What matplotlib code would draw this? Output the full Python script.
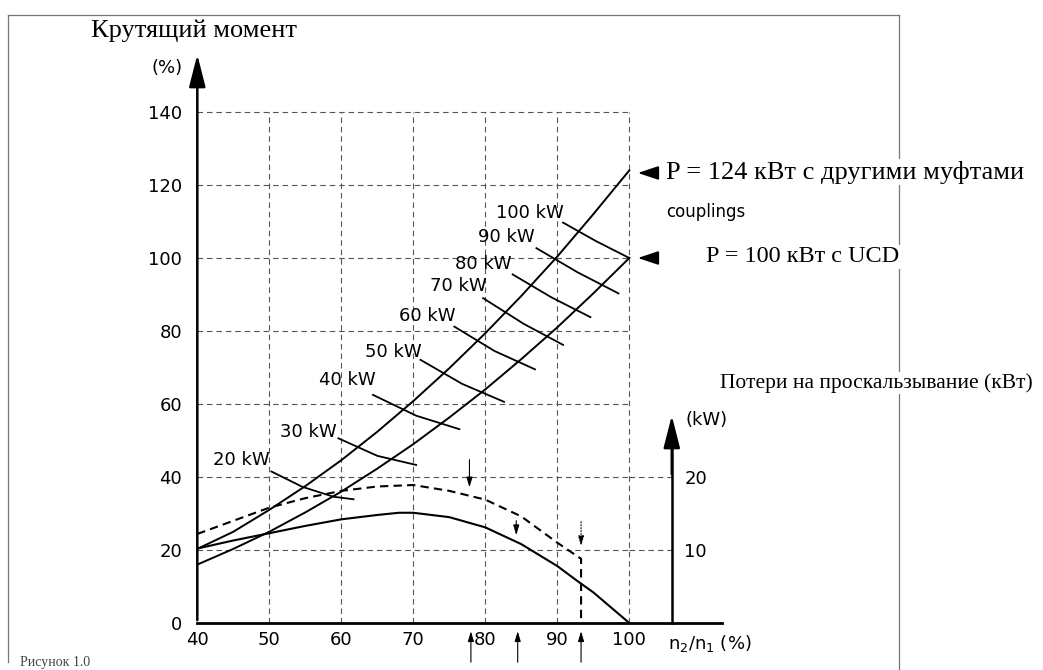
import matplotlib.pyplot as plt
from matplotlib.lines import Line2D

W, H = 1043, 670

# speed ratio n2/n1 (%)
speed = [40, 45, 50, 55, 60, 65, 70, 75, 80, 85, 90, 95, 100]
# torque (%) - upper curve, other couplings (P = 124 kW)
torque_other = [20.3, 25, 31, 37.5, 44.6, 52.4, 60.8, 69.8, 79.4, 89.6, 100.4, 112, 124]
# torque (%) - lower curve, UCD (P = 100 kW)
torque_ucd = [16, 20.3, 25, 30.3, 36, 42.3, 49, 56.3, 64, 72.3, 81, 90.3, 100]

# slip losses (kW)
loss_ucd_n = [40, 45, 50, 55, 60, 65, 68, 70, 75, 80, 85, 90, 93, 95, 100]
loss_ucd = [10.2, 11.3, 12.3, 13.3, 14.2, 14.8, 15.1, 15.1, 14.5, 13.1, 10.8, 7.8, 5.6, 4.2, 0]
loss_other_n = [40, 45, 50, 55, 60, 65, 70, 75, 80, 85, 90, 93.3, 93.3]
loss_other = [12.2, 14.0, 15.8, 17.1, 18.1, 18.7, 18.9, 18.1, 16.9, 14.6, 11.0, 8.8, 0]

# constant power arcs: (n, torque) points along each arc
kw_values = [20, 30, 40, 50, 60, 70, 80, 90, 100]
arc_n = [(50.3, 54.6, 58.9, 61.7), (59.6, 65.0, 70.4), (64.4, 70.4, 76.4),
         (71.0, 76.8, 82.6), (75.7, 81.3, 86.9), (79.7, 85.3, 90.8),
         (83.8, 89.2, 94.6), (87.1, 92.8, 98.5), (90.8, 95.4, 100.0)]
arc_t = [(41.5, 37.3, 34.6, 33.9), (50.6, 45.8, 43.3), (62.5, 56.8, 53.1),
         (72.1, 65.5, 60.6), (81.2, 74.5, 69.5), (89.0, 82.0, 76.2),
         (95.5, 89.2, 83.8), (102.7, 96.1, 90.3), (109.7, 104.6, 100.0)]
label_n = [50.1, 59.4, 64.8, 71.2, 75.9, 80.2, 83.6, 86.8, 90.9]
label_t = [44.7, 52.4, 66.6, 74.3, 84.1, 92.3, 98.4, 105.8, 112.3]

x_ticks = [40, 50, 60, 70, 80, 90, 100]
y_ticks = [0, 20, 40, 60, 80, 100, 120, 140]
kw_ticks = [10, 20]

fig = plt.figure(figsize=(W / 100, H / 100), dpi=100)
X0, X1, Y0, Y1 = 40, 115, 0, 155
ax = fig.add_axes([197.3 / W, (H - 623) / H, (X1 - X0) * 7.2 / W, (Y1 - Y0) * 3.65 / H])
ax.set_xlim(X0, X1)
ax.set_ylim(Y0, Y1)
for s in ax.spines.values():
    s.set_visible(False)

# grid
gkw = dict(colors='#555555', linestyles=(0, (5, 3.5)), linewidth=0.8, zorder=1)
ax.vlines(x_ticks[1:], 0, 140, **gkw)
ax.hlines(y_ticks[1:], 40, 100, **gkw)
ax.hlines([20, 40], 100, 105.9, **gkw)

# axes with arrows
ax.plot([40, 112.9], [0, 0], color='black', lw=2, clip_on=False, zorder=5)
ax.annotate('', xy=(40, 156.5), xytext=(40, 0), annotation_clip=False,
            arrowprops=dict(arrowstyle='-|>,head_length=1.1,head_width=0.28',
                            color='black', lw=1.8, mutation_scale=18))

ax.set_xticks(x_ticks)
ax.set_yticks(y_ticks)
ax.tick_params(length=0, labelsize=13)
ax.tick_params(axis='x', pad=6)
ax.tick_params(axis='y', pad=11)

# torque curves
ax.plot(speed, torque_other, color='black', lw=1.4, zorder=4)
ax.plot(speed, torque_ucd, color='black', lw=1.4, zorder=4)

# power arcs + labels
for kw, ns, ts, lx, ly in zip(kw_values, arc_n, arc_t, label_n, label_t):
    ax.plot(ns, ts, color='black', lw=1.3, zorder=4)
    ax.text(lx, ly, f'{kw} kW', ha='right', va='center', fontsize=13, zorder=6)

# secondary axis (kW)
ax2 = ax.twinx()
ax2.set_ylim(Y0 / 2, Y1 / 2)
for s in ax2.spines.values():
    s.set_visible(False)
ax2.spines['right'].set_visible(True)
ax2.spines['right'].set_position(('data', 105.9))
ax2.spines['right'].set_bounds(0, 27)
ax2.spines['right'].set_linewidth(1.8)
ax2.annotate('', xy=(105.9, 28.8), xytext=(105.9, 20), annotation_clip=False,
             arrowprops=dict(arrowstyle='-|>,head_length=1.1,head_width=0.28',
                             color='black', lw=1.8, mutation_scale=18))
ax2.set_yticks(kw_ticks)
ax2.tick_params(length=0, labelsize=13, pad=9)
ax2.text(107.8, 27.8, '(kW)', ha='left', va='center', fontsize=13)

ax2.plot(loss_ucd_n, loss_ucd, color='black', lw=1.5, zorder=4)
ax2.plot(loss_other_n, loss_other, color='black', lw=1.5,
         linestyle=(0, (4, 2.5)), zorder=4)

# marker arrows
akw = dict(arrowstyle='-|>,head_length=0.5,head_width=0.15', color='black',
           lw=0.8, mutation_scale=12)
ax.annotate('', xy=(77.8, 36.4), xytext=(77.8, 45.5), arrowprops=akw)
ax.annotate('', xy=(84.3, 23.3), xytext=(84.3, 28.8), arrowprops=akw)
ax.annotate('', xy=(93.3, 20.3), xytext=(93.3, 28.5),
            arrowprops=dict(akw, linestyle=':'))
for xa in [78.0, 84.5, 93.3]:
    ax.annotate('', xy=(xa, -1.5), xytext=(xa, -11.5), annotation_clip=False,
                arrowprops=akw)

ax.text(105.4, -5.5, 'n$_2$/n$_1$ (%)', ha='left', va='center', fontsize=13)
ax.text(33.7, 152, '(%)', ha='left', va='center', fontsize=13, clip_on=False)

# arrows to the right labels
bkw = dict(arrowstyle='-|>,head_length=0.9,head_width=0.3', color='black',
           lw=1.3, mutation_scale=14)
ax.annotate('', xy=(100.8, 123.3), xytext=(103.6, 123.3), annotation_clip=False, arrowprops=bkw)
ax.annotate('', xy=(100.8, 100.0), xytext=(103.6, 100.0), annotation_clip=False, arrowprops=bkw)

# frame
fkw = dict(color='#777777', lw=0.9, zorder=-5)
fig.add_artist(Line2D([8 / W, 8 / W], [1 - 15 / H, 1 - 662 / H], **fkw))
fig.add_artist(Line2D([8 / W, 899 / W], [1 - 15 / H, 1 - 15 / H], **fkw))
fig.add_artist(Line2D([899 / W, 899 / W], [1 - 15 / H, 0], **fkw))

serif = 'Liberation Serif'
wbox = dict(facecolor='white', edgecolor='none', pad=1)


def ftext(x, y, s, **kw):
    fig.text(x / W, 1 - y / H, s, **kw)


ftext(91, 31, 'Крутящий момент', family=serif, fontsize=19, va='center')
ftext(666, 172, 'P = 124 кВт с другими муфтами', family=serif, fontsize=19,
      va='center', bbox=wbox, zorder=10)
ftext(666, 212, 'couplings', fontsize=12, va='center')
ftext(706, 257, 'P = 100 кВт с UCD', family=serif, fontsize=17.5, va='center',
      bbox=wbox, zorder=10)
ftext(720, 383, 'Потери на проскальзывание (кВт)', family=serif, fontsize=15.5,
      va='center', bbox=wbox, zorder=10)
ftext(20, 669, 'Рисунок 1.0', family=serif, fontsize=10, va='bottom', color='#444444')

fig.savefig('out.png', dpi=100)
